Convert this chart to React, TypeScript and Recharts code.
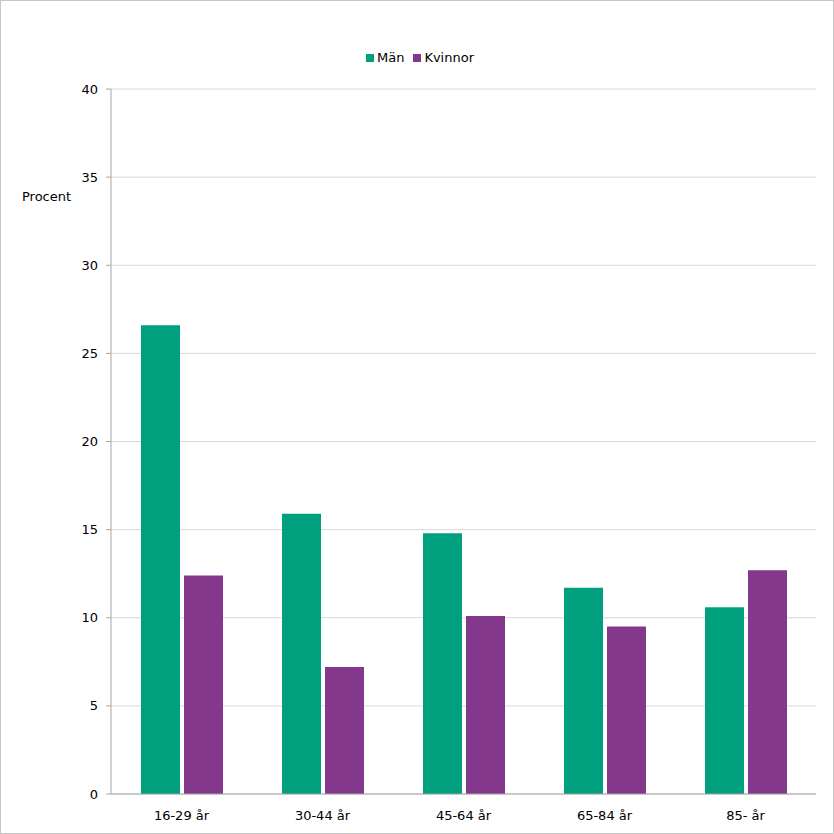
import React from 'react';
import { BarChart, Bar, XAxis, YAxis, CartesianGrid } from 'recharts';

const categories = ['16-29 år', '30-44 år', '45-64 år', '65-84 år', '85- år'];
const manValues = [26.6, 15.9, 14.8, 11.7, 10.6];
const kvinnorValues = [12.4, 7.2, 10.1, 9.5, 12.7];
const yTicks = [0, 5, 10, 15, 20, 25, 30, 35, 40];
const seriesNames = ['Män', 'Kvinnor'];
const colors = ['#00A07F', '#84388B'];

const data = categories.map((c, i) => ({ name: c, man: manValues[i], kvinnor: kvinnorValues[i] }));

const font = '"DejaVu Sans", Verdana, sans-serif';

export default function App() {
  return (
    <div style={{ position: 'absolute', left: 0, top: 0, width: 834, height: 834, boxSizing: 'border-box', border: '1px solid #c6c6c6', background: '#fff', fontFamily: font }}>
      <div style={{ position: 'absolute', top: 49, left: 0, width: 834, display: 'flex', justifyContent: 'center', fontSize: 13, color: '#000', paddingLeft: 4, boxSizing: 'border-box' }}>
        {seriesNames.map((n, i) => (
          <div key={n} style={{ display: 'flex', alignItems: 'center', marginRight: i === 0 ? 9 : 0 }}>
            <span style={{ display: 'inline-block', width: 8, height: 8, background: colors[i], marginRight: 3 }} />
            <span>{n}</span>
          </div>
        ))}
      </div>
      <div style={{ position: 'absolute', left: 21, top: 188, fontSize: 13, color: '#000' }}>Procent</div>
      <div style={{ position: 'absolute', left: 1, top: 0 }}>
        <BarChart width={833} height={834} data={data} margin={{ top: 88, right: 19, bottom: 1, left: 0 }} barGap={4} barSize={39}>
          <CartesianGrid vertical={false} stroke="#d9d9d9" />
          <XAxis dataKey="name" axisLine={{ stroke: '#a6a6a6' }} tickLine={false} tickSize={0} tickMargin={17} height={40} tick={{ fill: '#000', fontSize: 13, fontFamily: font }} />
          <YAxis domain={[0, 40]} ticks={yTicks} width={109} axisLine={{ stroke: '#a6a6a6' }} tickLine={{ stroke: '#a6a6a6' }} tickSize={5} tickMargin={8} tick={{ fill: '#000', fontSize: 13, fontFamily: font }} />
          <Bar dataKey="man" name={seriesNames[0]} fill={colors[0]} isAnimationActive={false} />
          <Bar dataKey="kvinnor" name={seriesNames[1]} fill={colors[1]} isAnimationActive={false} />
        </BarChart>
      </div>
    </div>
  );
}
